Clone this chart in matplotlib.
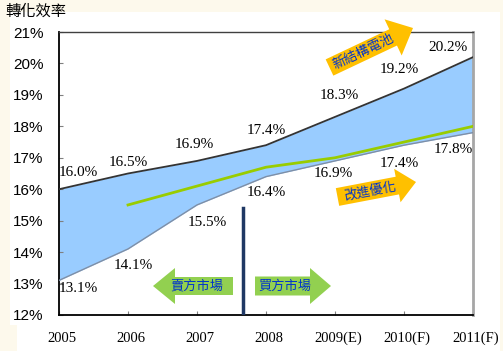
import numpy as np
import matplotlib
matplotlib.use("Agg")
import matplotlib.pyplot as plt
import matplotlib.transforms as mtransforms
from matplotlib.patches import Polygon, Rectangle

# data
years = ["2005", "2006", "2007", "2008", "2009(E)", "2010(F)", "2011(F)"]
upper = [16.0, 16.5, 16.9, 17.4, 18.3, 19.2, 20.2]
lower = [13.1, 14.1, 15.5, 16.4, 16.9, 17.4, 17.8]
trend = [np.nan, 15.5, 16.1, 16.7, 17.0, 17.5, 18.0]
divider_x = 2.67
divider_top = 15.4

# label offsets (pixels) for each point label
upper_off = [(19, 17), (0, 11), (-3, 16), (0, 15), (4, 21), (-5, 19), (-25, 10)]
lower_off = [(19, -8), (5, -17), (10, -18), (0, -16), (-2, -13), (-5, -18), (-20, -17)]

W, H = 503, 351
fig = plt.figure(figsize=(W / 100, H / 100), dpi=100)
fig.patch.set_facecolor("#FDF9EC")

def px(x, y):
    return (x / W, 1 - y / H)

# white panel
fig.add_artist(Rectangle(px(10, 325), 490 / W, 313 / H, transform=fig.transFigure,
                         facecolor="white", edgecolor="none", zorder=-10))
fig.add_artist(Rectangle(px(17, 351), 483 / W, 27 / H, transform=fig.transFigure,
                         facecolor="white", edgecolor="none", zorder=-10))

ax = fig.add_axes([59 / W, 1 - 315 / H, (473 - 59) / W, (315 - 32) / H])
ax.set_facecolor("white")
x = np.arange(len(years))

ax.fill_between(x, lower, upper, color="#99CCFF", linewidth=0, zorder=1)
ax.plot(x, upper, color="#333333", linewidth=1.3, zorder=3)
ax.plot(x, lower, color="#7F8FA6", linewidth=1.0, zorder=3)
ax.plot(x, trend, color="#99CC00", linewidth=2.0, zorder=4)
ax.plot([divider_x, divider_x], [12, divider_top], color="#1F3864", linewidth=2.5, zorder=5)

serif = "Liberation Serif"
for i in range(len(years)):
    ax.annotate(f"{upper[i]:.1f}%", (x[i], upper[i]), xytext=upper_off[i],
                textcoords="offset pixels", ha="center", va="center",
                fontsize=11, family=serif, zorder=6)
    ax.annotate(f"{lower[i]:.1f}%", (x[i], lower[i]), xytext=lower_off[i],
                textcoords="offset pixels", ha="center", va="center",
                fontsize=11, family=serif, zorder=6)

ax.set_xlim(0, 6)
ax.set_ylim(12, 21)
ax.set_xticks(x)
ax.set_xticklabels(years, family=serif, fontsize=10.5)
ax.set_yticks(np.arange(12, 22))
ax.set_yticklabels([f"{v}%" for v in range(12, 22)], family="Liberation Sans", fontsize=11)
ax.tick_params(axis="x", direction="in", length=3, color="#808080", pad=12)
ax.tick_params(axis="y", direction="in", length=3, color="#808080", pad=11)
shift = mtransforms.ScaledTranslation(3 / 100, 0, fig.dpi_scale_trans)
for lab in ax.get_xticklabels():
    lab.set_transform(lab.get_transform() + shift)

ax.spines["left"].set_color("black")
ax.spines["left"].set_linewidth(1.3)
ax.spines["bottom"].set_color("black")
ax.spines["bottom"].set_linewidth(1.3)
ax.spines["top"].set_color("#404040")
ax.spines["top"].set_linewidth(1.0)
ax.spines["right"].set_color("#A6A6A6")
ax.spines["right"].set_linewidth(2.0)

cjk = ["Noto Sans CJK TC", "DejaVu Sans"]
fig.text(5 / W, 1 - 11 / H, "轉化效率", family=cjk, fontsize=11, va="center", ha="left")

def arrow(x0, y0, x1, y1, sw, hw, hl, color, label, tx, ty, fs):
    p0 = np.array([x0, y0], float)
    p1 = np.array([x1, y1], float)
    u = (p1 - p0) / np.linalg.norm(p1 - p0)
    n = np.array([-u[1], u[0]])
    base = p1 - u * hl
    pts = [p0 + n * sw / 2, base + n * sw / 2, base + n * hw / 2, p1,
           base - n * hw / 2, base - n * sw / 2, p0 - n * sw / 2]
    pts = [px(p[0], p[1]) for p in pts]
    fig.add_artist(Polygon(pts, closed=True, transform=fig.transFigure,
                           facecolor=color, edgecolor="none", zorder=5))
    ang = np.degrees(np.arctan2(-(y1 - y0), x1 - x0))
    if abs(ang) > 90:
        ang = 0
    fig.text(*px(tx, ty), label, family=cjk, fontsize=fs, color="#0033CC",
             rotation=ang, rotation_mode="anchor", ha="center", va="center", zorder=6)

arrow(329.5, 67.5, 413, 28, 18, 40, 22, "#FFC000", "新結構電池", 363, 52, 9.5)
arrow(337.5, 197, 416, 182, 18, 34, 19, "#FFC000", "改進優化", 370, 192, 9.5)
arrow(233, 286, 153, 286, 18, 36, 22, "#92D050", "賣方市場", 197, 286, 9.5)
arrow(255, 286, 331, 286, 19, 36, 21, "#92D050", "買方市場", 285, 286, 9.5)

fig.savefig("out.png", dpi=100, facecolor=fig.get_facecolor())
